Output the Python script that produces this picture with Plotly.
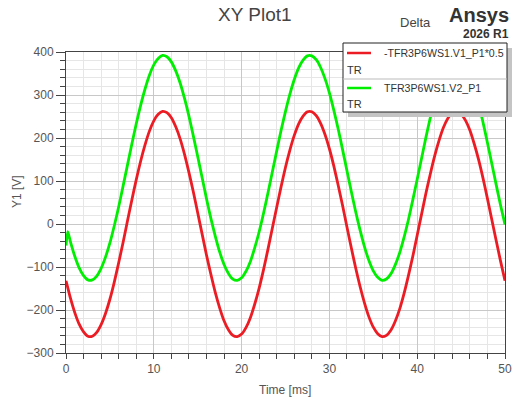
import plotly.graph_objects as go

# Time axis samples [ms]
time_ms = [0, 0.2, 0.5, 1, 1.5, 2, 2.5, 3, 3.5, 4, 4.5, 5, 5.5, 6, 6.5, 7, 7.5, 8, 8.5, 9, 9.5,
           10, 10.5, 11, 11.5, 12, 12.5, 13, 13.5, 14, 14.5, 15, 15.5, 16, 16.5, 17, 17.5,
           18, 18.5, 19, 19.5, 20, 20.5, 21, 21.5, 22, 22.5, 23, 23.5, 24, 24.5, 25, 25.5,
           26, 26.5, 27, 27.5, 28, 28.5, 29, 29.5, 30, 30.5, 31, 31.5, 32, 32.5, 33, 33.5,
           34, 34.5, 35, 35.5, 36, 36.5, 37, 37.5, 38, 38.5, 39, 39.5, 40, 40.5, 41, 41.5,
           42, 42.5, 43, 43.5, 44, 44.5, 45, 45.5, 46, 46.5, 47, 47.5, 48, 48.5, 49, 49.5, 50]

# -TFR3P6WS1.V1_P1*0.5 [V]
v1_half = [-132, -148, -172, -206, -233, -251, -261, -261, -252, -234, -208, -175, -135, -90,
           -43, 7, 56, 103, 146, 184, 216, 240, 255, 262, 259, 247, 226, 198, 162, 120, 75,
           26, -23, -72, -117, -159, -195, -225, -246, -259, -262, -256, -241, -218, -186,
           -149, -106, -59, -10, 39, 87, 132, 172, 206, 233, 251, 261, 261, 252, 234, 208,
           175, 135, 90, 43, -7, -56, -103, -146, -184, -216, -240, -255, -262, -259, -247,
           -226, -198, -162, -120, -75, -26, 23, 72, 117, 159, 195, 225, 246, 259, 262, 256,
           241, 218, 186, 149, 106, 59, 10, -39, -87, -132]

# TFR3P6WS1.V2_P1 [V]
v2 = [-50, -18, -41, -75, -102, -120, -130, -130, -121, -103, -77, -44, -4, 40, 88, 137,
      186, 233, 276, 314, 346, 370, 385, 392, 389, 377, 356, 328, 292, 251, 205, 157, 108,
      59, 13, -28, -65, -94, -115, -128, -131, -125, -110, -87, -55, -18, 25, 72, 121, 170,
      218, 262, 302, 336, 363, 381, 391, 391, 382, 364, 338, 305, 265, 221, 173, 124, 75,
      28, -15, -53, -85, -109, -124, -131, -128, -116, -95, -67, -31, 10, 56, 104, 153,
      202, 248, 290, 326, 355, 376, 389, 392, 386, 371, 348, 317, 279, 236, 189, 140, 91,
      43, -1]

series_names = ["-TFR3P6WS1.V1_P1*0.5", "TFR3P6WS1.V2_P1"]
series_colors = ["#ec1c24", "#00ee00"]

x_range = [0, 50]
y_range = [-300, 400]

FONT = "Liberation Sans, Arial, sans-serif"

fig = go.Figure()
fig.add_trace(go.Scatter(x=time_ms, y=v1_half, mode="lines", name=series_names[0],
                         line=dict(color=series_colors[0], width=2.8, shape="spline", smoothing=0.6)))
fig.add_trace(go.Scatter(x=time_ms, y=v2, mode="lines", name=series_names[1],
                         line=dict(color=series_colors[1], width=2.8, shape="spline", smoothing=0.6)))

W, H = 517, 403
L, R, T, B = 66, 12, 52, 50
pw = W - L - R
ph = H - T - B

def px(x):
    return (x - L) / pw

def py(y):
    return (H - B - y) / ph

axis_common = dict(
    showline=True, linecolor="#444444", linewidth=1, mirror=True,
    ticks="outside", tickcolor="#444444", tickwidth=1,
    gridcolor="#c8c8c8", gridwidth=1, zeroline=False, automargin=False,
    tickfont=dict(family=FONT, size=12, color="#555555"),
)

fig.update_xaxes(range=x_range, dtick=10, ticklen=5,
                 minor=dict(dtick=2, showgrid=True, gridcolor="#e6e6e6", ticks="outside",
                            ticklen=5, tickcolor="#444444"),
                 **axis_common)
fig.update_yaxes(range=y_range, dtick=100, ticklen=9,
                 minor=dict(dtick=20, showgrid=True, gridcolor="#e6e6e6", ticks="outside",
                            ticklen=5, tickcolor="#444444"),
                 **axis_common)

shapes = []
# legend shadow
shapes.append(dict(type="rect", xref="paper", yref="paper", x0=px(348), x1=px(512),
                   y0=py(117), y1=py(48), fillcolor="#c4c4c4", line=dict(width=0), layer="above"))
# legend box
shapes.append(dict(type="rect", xref="paper", yref="paper", x0=px(343), x1=px(507),
                   y0=py(112), y1=py(43), fillcolor="white",
                   line=dict(color="#222222", width=1), layer="above"))
# divider
shapes.append(dict(type="line", xref="paper", yref="paper", x0=px(343), x1=px(507),
                   y0=py(79), y1=py(79), line=dict(color="#bbbbbb", width=1), layer="above"))
# line samples
for i, yy in enumerate([53, 88]):
    shapes.append(dict(type="line", xref="paper", yref="paper", x0=px(347), x1=px(371),
                       y0=py(yy), y1=py(yy), line=dict(color=series_colors[i], width=2.5),
                       layer="above"))

annotations = []
for i, (yy, yt) in enumerate([(53, 70), (88, 104)]):
    annotations.append(dict(x=px(382), y=py(yy), xref="paper", yref="paper", text=series_names[i],
                            showarrow=False, xanchor="left", yanchor="middle",
                            font=dict(family=FONT, size=10.6, color="#333333")))
    annotations.append(dict(x=px(345), y=py(yt), xref="paper", yref="paper", text="TR",
                            showarrow=False, xanchor="left", yanchor="middle",
                            font=dict(family=FONT, size=11, color="#333333")))

annotations += [
    dict(x=px(255), y=py(15), xref="paper", yref="paper", text="XY Plot1", showarrow=False,
         xanchor="center", yanchor="middle", font=dict(family=FONT, size=19, color="#444444")),
    dict(x=px(433), y=py(22), xref="paper", yref="paper", text="Delta", showarrow=False,
         xanchor="right", yanchor="middle", font=dict(family=FONT, size=13, color="#444444")),
    dict(x=px(511), y=py(15), xref="paper", yref="paper", text="<b>Ansys</b>", showarrow=False,
         xanchor="right", yanchor="middle", font=dict(family=FONT, size=20, color="#333333")),
    dict(x=px(511), y=py(34), xref="paper", yref="paper", text="<b>2026 R1</b>", showarrow=False,
         xanchor="right", yanchor="middle", font=dict(family=FONT, size=12, color="#333333")),
    dict(x=px(285), y=py(390), xref="paper", yref="paper", text="Time [ms]", showarrow=False,
         xanchor="center", yanchor="middle", font=dict(family=FONT, size=12, color="#555555")),
    dict(x=px(17), y=py(192), xref="paper", yref="paper", text="Y1 [V]", showarrow=False,
         textangle=-90, xanchor="center", yanchor="middle",
         font=dict(family=FONT, size=12, color="#555555")),
]

fig.update_layout(
    width=W, height=H,
    margin=dict(l=L, r=R, t=T, b=B, autoexpand=False),
    paper_bgcolor="white", plot_bgcolor="white",
    showlegend=False,
    shapes=shapes, annotations=annotations,
    font=dict(family=FONT),
)

fig.write_html("out.html")
